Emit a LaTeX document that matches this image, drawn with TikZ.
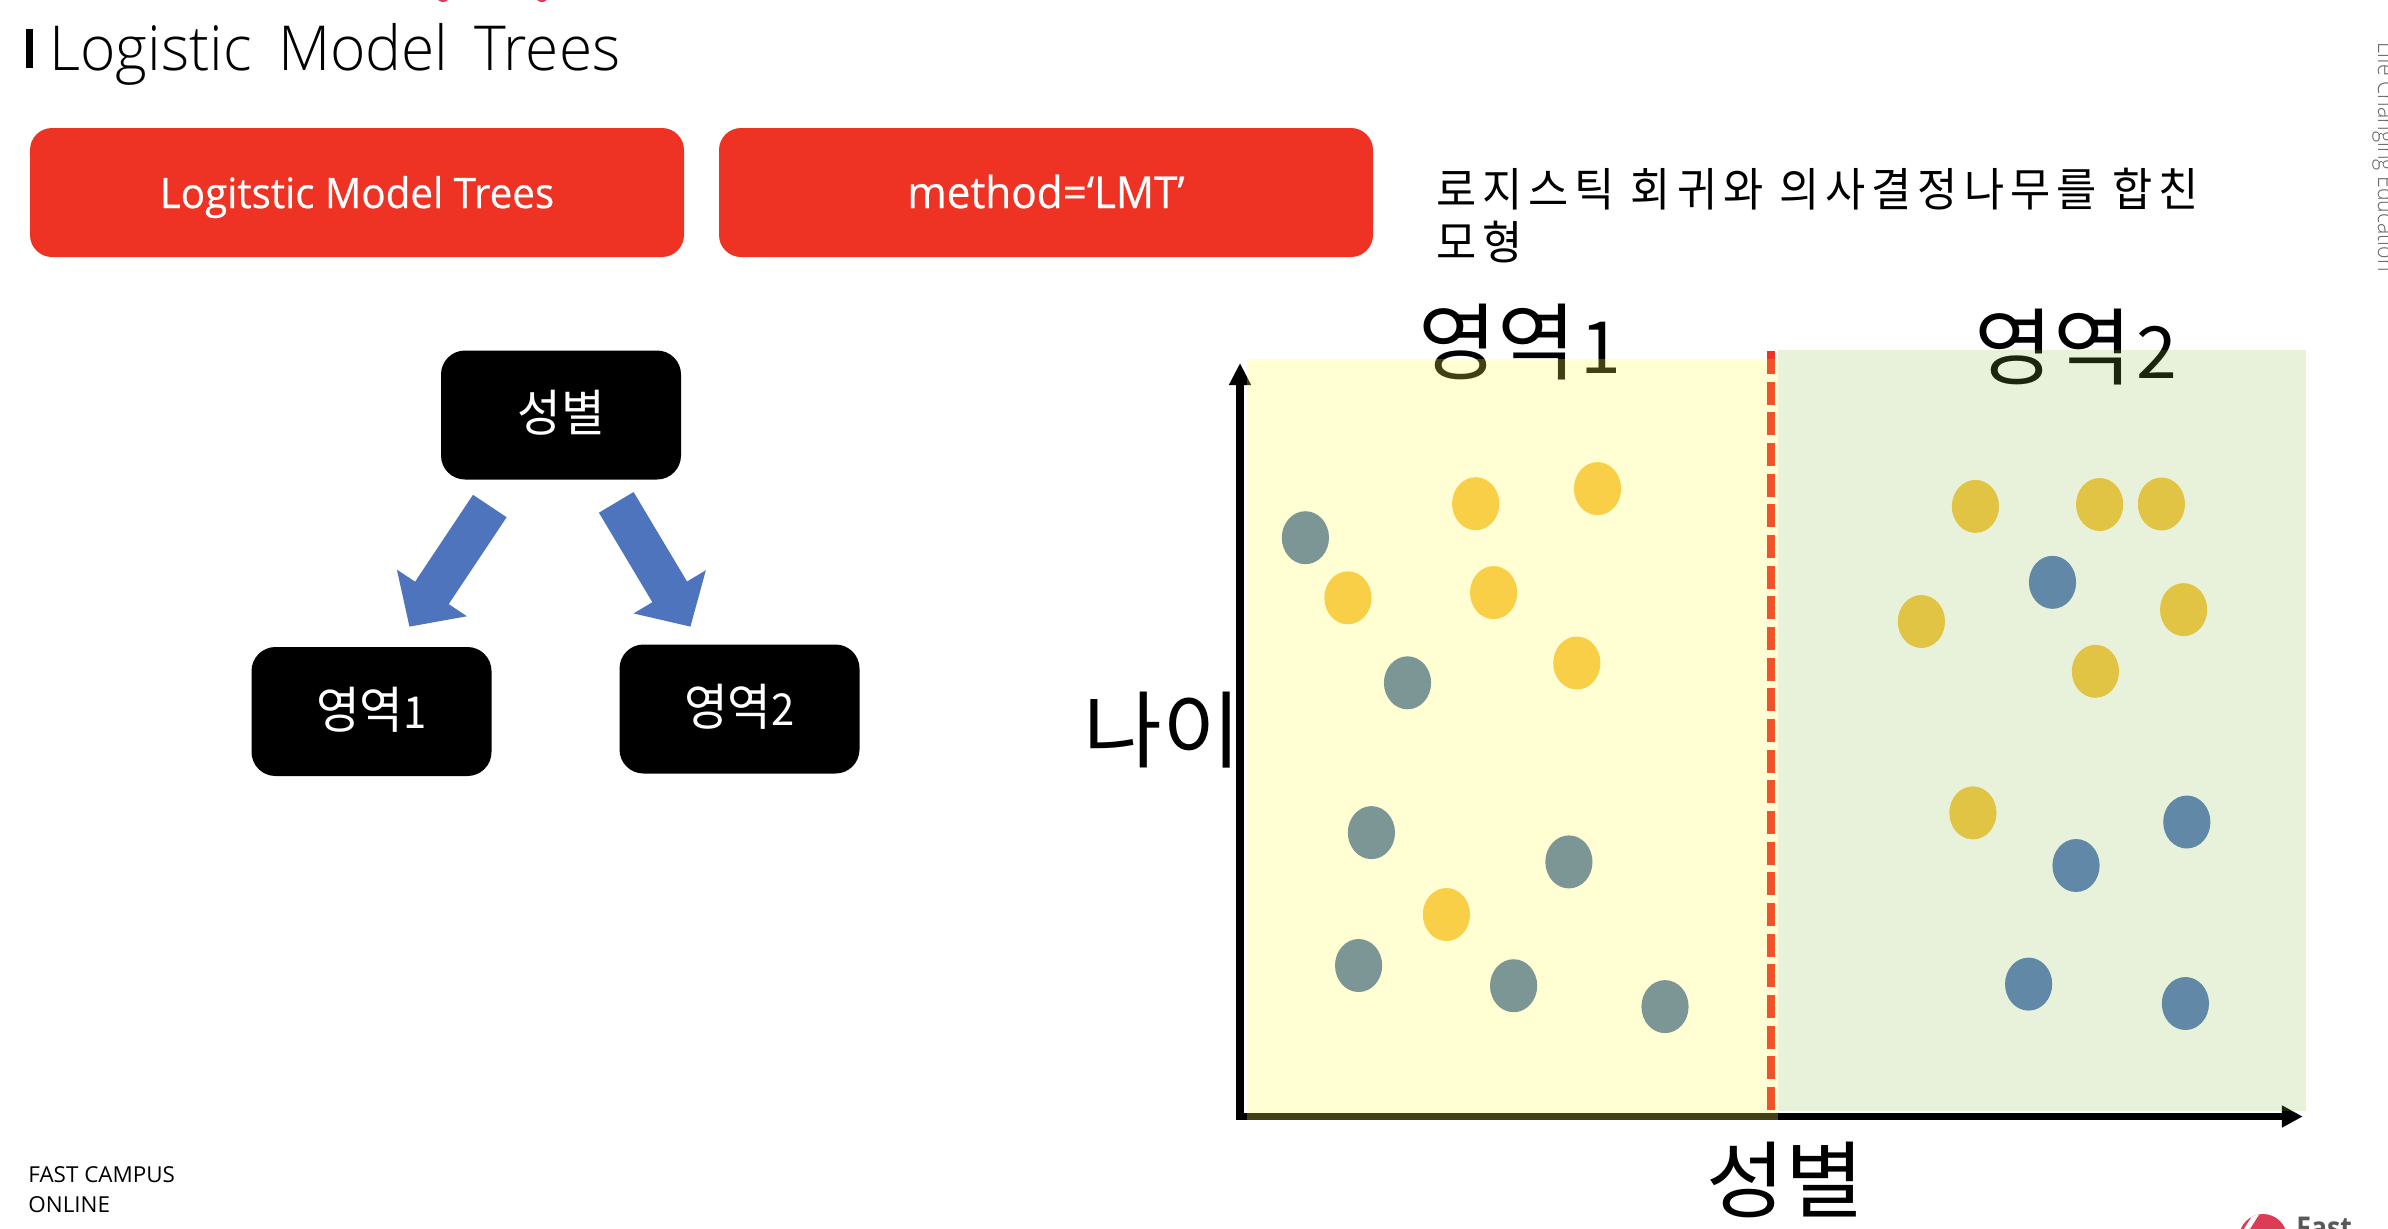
\documentclass[tikz,border=0pt]{standalone}
\usepackage{fontspec}
\usetikzlibrary{arrows.meta}
\newfontfamily\krf[FakeStretch=.95]{Noto Sans CJK KR}
\newfontfamily\krdesc[FakeStretch=.95,LetterSpace=13]{Noto Sans CJK KR}
\newfontfamily\krbig[FakeStretch=1.02]{Noto Sans CJK KR}
\newfontfamily\latf[FakeStretch=.96,FakeBold=.5]{Open Sans}
\newfontfamily\footf[FakeStretch=1.02]{Open Sans}
\newfontfamily\logof[FakeStretch=.886]{Open Sans}
\newfontfamily\ttlf[FakeStretch=.975]{Open Sans Light}
\newfontfamily\sidef[FakeStretch=.886]{Open Sans Light}
\newcommand{\fs}[1]{\fontsize{#1pt}{#1pt}\selectfont}
\definecolor{btnred}{HTML}{EE3324}
\definecolor{blockblue}{HTML}{4F74BE}
\definecolor{dashred}{HTML}{F05229}
\definecolor{dotyl}{HTML}{F9CF48}
\definecolor{dotteal}{HTML}{7C9595}
\definecolor{dotyg}{HTML}{E1C443}
\definecolor{dotblue}{HTML}{6288A7}
\definecolor{ovyellow}{HTML}{FFFF50}
\definecolor{ovgreen}{HTML}{8CBF4B}
\definecolor{logored}{HTML}{DC3C58}
\tikzset{
  btn/.style={fill=btnred,rounded corners=11pt,minimum width=327pt,minimum height=64.5pt,inner sep=0pt,text=white,text height=15.5pt,text depth=0pt,font=\latf\fs{21}},
  blk/.style={fill=black,rounded corners=12pt,minimum width=120pt,minimum height=64.5pt,inner sep=0pt,text=white,font=\krf\fs{25}},
  big/.style={anchor=base west,inner sep=0pt,font=\krbig\fs{42}},
  blockarrow/.style={draw=blockblue,line width=20.2pt,-{Triangle[length=20.3pt,width=40.9pt]}},
  axis/.style={draw=black,line width=3.6pt},
  yd/.style={fill=dotyl},td/.style={fill=dotteal},gd/.style={fill=dotyg},bd/.style={fill=dotblue}
}
\begin{document}
\begin{tikzpicture}[x=.5pt,y=-.5pt]
\useasboundingbox (0,0) rectangle (2388,1228);
\clip (0,0) rectangle (2388,1228);
% clipped header remnants
\fill[logored] (443,-3) ellipse [x radius=6,y radius=5];
\fill[logored] (542,-3) ellipse [x radius=6,y radius=5];
% title
\fill[black] (26,29) rectangle (33,68);
\node[anchor=base west,inner sep=0pt,font=\ttlf\fs{31}] (title) at (49,70) {Logistic\kern5.3pt\ Model\kern5.3pt\ Trees};
% buttons
\node[btn] (b1) at (357,192.5) {Logitstic Model Trees};
\node[btn,font=\latf\fs{22}] (b2) at (1046,192.5) {method=‘LMT’};
% description
\node[anchor=base west,inner sep=0pt,font=\krdesc\fs{23}] (d1) at (1436,206) {로지스틱 회귀와 의사결정나무를 합친};
\node[anchor=base west,inner sep=0pt,font=\krdesc\fs{23}] (d2) at (1436,259) {모형};
% tree
\node[blk,text height=16pt,text depth=0pt] (root) at (561,415) {성별};
\node[blk,text height=16.5pt,text depth=0pt] (r1) at (371.5,711.5) {영역{\fs{22}1}};
\node[blk,text height=16pt,text depth=0pt] (r2) at (739.5,709) {영역{\fs{22}2}};
\coordinate (las) at (489.8,506);
\coordinate (lat) at (409.4,626.7);
\coordinate (ras) at (616.25,502.35);
\coordinate (rat) at (690.5,626.7);
\draw[blockarrow] (las) -- (lat);
\draw[blockarrow] (ras) -- (rat);
% axis labels and region labels
\node[big] (t1) at (1418,373) {영역\kern2pt{\fs{36}1}};
\node[big] (t2) at (1974,378) {영역\kern2pt{\fs{36}2}};
\node[big] (ylab) at (1083,761) {나이};
\node[big] (xlab) at (1706,1211) {성별};
% axes
\coordinate (yb) at (1240,1120);
\coordinate (yt) at (1240,363);
\coordinate (xb) at (1236,1116.5);
\coordinate (xt) at (2302.7,1116.5);
\draw[axis,-{Triangle[length=11pt,width=10.3pt]}] (yb) -- (yt);
\draw[axis,-{Triangle[length=10.4pt,width=10.4pt]}] (xb) -- (xt);
% translucent regions
\fill[ovgreen,opacity=.2] (1777.5,350) rectangle (2306,1111);
\fill[ovyellow,opacity=.25] (1247,359) rectangle (1778,1120);
% split line
\coordinate (st) at (1771,351);
\coordinate (sb) at (1771,1110);
\draw[dashred,line width=4pt,dash pattern=on 11.5pt off 3.83pt] (st) -- (sb);
\fill[btnred] (1767,351) rectangle (1775,359);
% dots
\foreach \x/\y/\s in {1305.4/537.7/td,1475.7/503.7/yd,1597.5/488.6/yd,1347.9/597.8/yd,1493.6/592.6/yd,1576.8/663/yd,1407.5/682.8/td,1371.4/832.6/td,1568.9/861.9/td,1446.4/914.5/yd,1358.6/965.5/td,1513.6/985.7/td,1665/1006.6/td,
 1975.4/506.4/gd,2099.6/504.5/gd,2161.4/504/gd,2052.5/582.3/bd,1921.4/621.5/gd,2183.6/609.6/gd,2095.4/671.3/gd,1972.9/812.9/gd,2186.8/822/bd,2076/865.5/bd,2028.6/984.1/bd,2185.4/1003.5/bd}
  \fill[\s] (\x,\y) ellipse [x radius=23.6,y radius=26.5];
% footer
\node[anchor=base west,inner sep=0pt,font=\footf\fs{11}] (f1) at (28,1182) {FAST CAMPUS};
\node[anchor=base west,inner sep=0pt,font=\footf\fs{11}] (f2) at (28,1212) {ONLINE};
% side text
\node[rotate=-90,anchor=base east,inner sep=0pt,text=black!60,font=\sidef\fs{12}] (side) at (2378,272) {Life Changing Education};
% logo
\begin{scope}
\clip (2263,1238) circle [radius=24];
\fill[logored] (2239,1210) rectangle (2290,1240);
\draw[white,line width=2.5pt] (2240,1240) -- (2262,1205);
\draw[white,line width=1.5pt] (2228,1240) -- (2252,1205);
\end{scope}
\node[anchor=base west,inner sep=0pt,text=black!65,font=\logof\bfseries\fs{15}] (logo) at (2296,1238) {Fast};
\end{tikzpicture}
\end{document}
